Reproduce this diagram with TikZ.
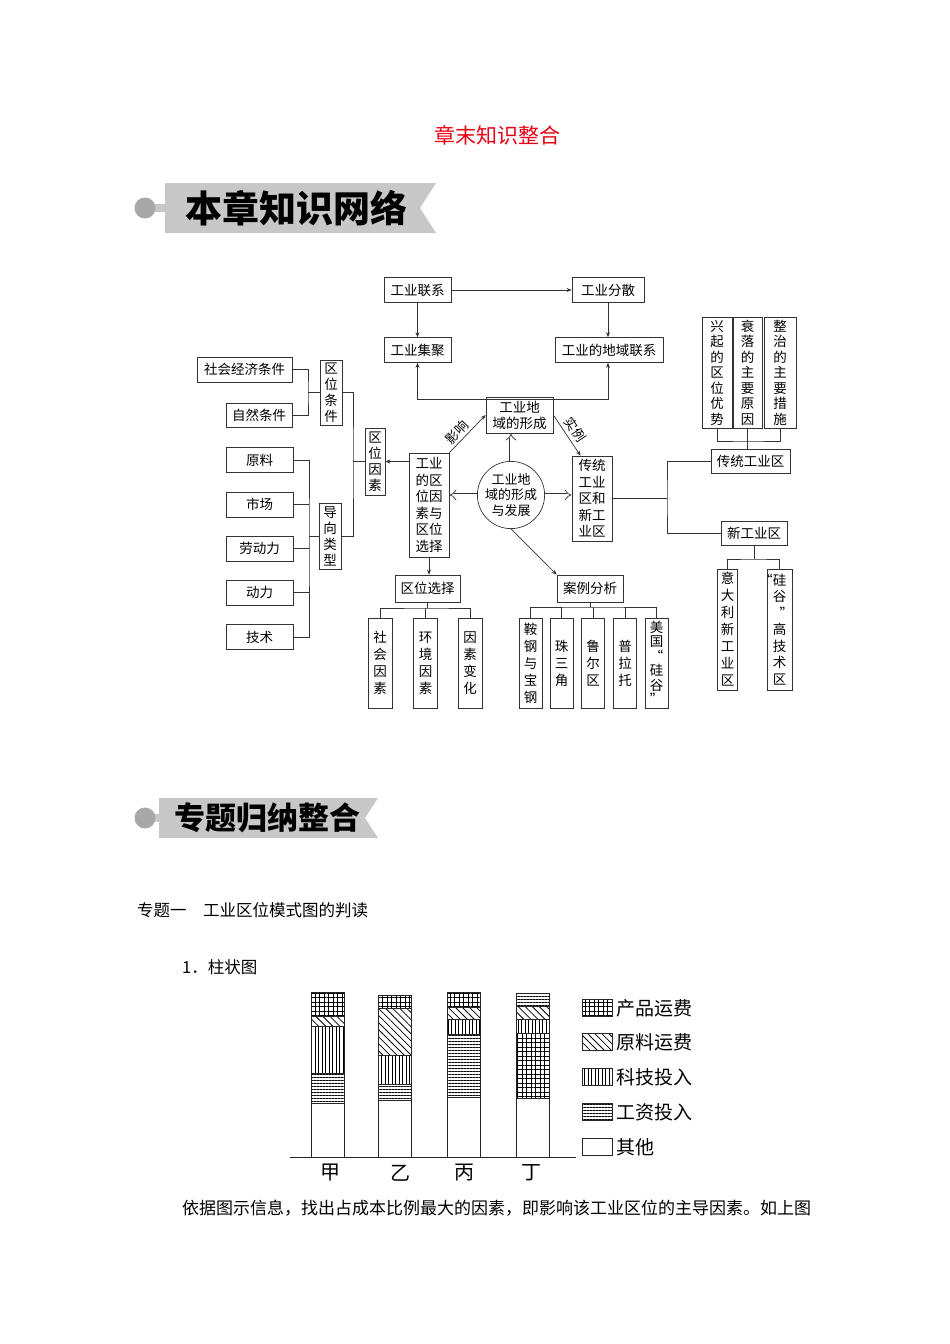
\documentclass[tikz,border=0pt]{standalone}
\usepackage{fontspec}
\setmainfont{Noto Sans CJK SC}
\usetikzlibrary{arrows.meta,patterns.meta}
\definecolor{titlered}{RGB}{230,0,18}
\definecolor{bannergray}{RGB}{200,200,200}
\definecolor{dotgray}{RGB}{168,168,168}

\begin{document}
\begin{tikzpicture}[x=1pt,y=-1pt,
    box/.style={draw=black!80, line width=0.7pt, inner sep=1pt, font=\fontsize{13.5}{16}\selectfont},
    vbox/.style={box, align=center},
    pitch/.style={font=\fontsize{13.5}{#1}\selectfont},
    link/.style={draw=black!80, line width=0.7pt},
    arr/.style={link, -{Stealth[length=5pt,width=4pt]}},
    dbl/.style={draw=black!80, line width=0.7pt, double, double distance=3pt, -{Implies}},
    tag/.style={font=\fontsize{13}{15}\selectfont, inner sep=0.5pt, sloped},
    bar/.style={draw=black!85, line width=0.6pt},
    cpfill/.style={bar, pattern={Hatch[distance=4.5pt, line width=0.6pt]}},
    ylfill/.style={bar, pattern={Lines[angle=-45, distance=5pt, line width=0.8pt]}},
    kjfill/.style={bar, pattern={Lines[angle=90, distance=3.5pt, line width=0.8pt]}},
    gzfill/.style={bar, pattern={Lines[angle=0, distance=3pt, line width=0.8pt]}},
    qtfill/.style={bar, fill=white}]
    \useasboundingbox (0,0) rectangle (950,1344);

    % Title and first banner
    \node[font=\fontsize{21}{24}\selectfont, text=titlered] (title) at (497,135) {章末知识整合};
    \fill[bannergray] (165,183) -- (436,183) -- (420,208) -- (436,233) -- (165,233) -- cycle;
    \fill[bannergray] (150,204) rectangle (166,212);
    \fill[dotgray] (145,208) circle (10.5);
    \node[font=\fontsize{37}{40}\selectfont\bfseries] (bannerA) at (296,208) {本章知识网络};

    % Top loop
    \node[box, minimum width=67, minimum height=25] (lianxi) at (417.5,290) {工业联系};
    \node[box, minimum width=72, minimum height=25] (fensan) at (608,290) {工业分散};
    \node[box, minimum width=67, minimum height=25] (jiju) at (417.5,350) {工业集聚};
    \node[box, minimum width=108, minimum height=25] (diyu) at (609,350) {工业的地域联系};
    \draw[arr] (lianxi) -- (fensan);
    \draw[arr] (lianxi) -- (jiju);
    \draw[arr] (fensan) -- (fensan |- diyu.north);
    \draw[arr, {Stealth[length=5pt,width=4pt]}-{Stealth[length=5pt,width=4pt]}] (jiju.south) -- ++(0,36) -| (fensan |- diyu.south);

    % Location conditions
    \node[box, minimum width=95, minimum height=25] (shehui) at (244.5,369.5) {社会经济条件};
    \node[box, minimum width=66, minimum height=24] (ziran) at (259,415) {自然条件};
    \node[vbox, minimum width=22, minimum height=65] (tiaojian) at (331,392.5) {区\\位\\条\\件};
    \coordinate (j1) at (308,392.5);
    \draw[link] (shehui.east) -| (j1) |- (ziran.east);
    \draw[link] (j1) -- (tiaojian.west);

    \node[vbox, minimum width=20, minimum height=67] (yinsu) at (375,461.5) {区\\位\\因\\素};
    \node[vbox, minimum width=22, minimum height=66] (daoxiang) at (330,536) {导\\向\\类\\型};
    \coordinate (j2) at (353,461.5);
    \draw[link] (tiaojian.east) -| (j2) |- (daoxiang.east);
    \draw[link] (j2) -- (yinsu.west);

    % Orientation types
    \node[box, minimum width=67, minimum height=25] (yuanliao) at (259.5,460) {原料};
    \node[box, minimum width=67, minimum height=25] (shichang) at (259.5,504.5) {市场};
    \node[box, minimum width=67, minimum height=25] (laodong) at (259.5,548.5) {劳动力};
    \node[box, minimum width=67, minimum height=25] (dongli) at (259.5,592.5) {动力};
    \node[box, minimum width=67, minimum height=25] (jishu) at (259.5,637) {技术};
    \coordinate (j3) at (309,536);
    \draw[link] (yuanliao.east) -| (j3) |- (jishu.east);
    \draw[link] (shichang.east) -- (shichang.east -| j3);
    \draw[link] (laodong.east) -- (laodong.east -| j3);
    \draw[link] (dongli.east) -- (dongli.east -| j3);
    \draw[link] (j3) -- (daoxiang.west);

    % Centre
    \node[vbox, pitch=16.5, minimum width=40, minimum height=104] (xuanze) at (429,505) {工业\\的区\\位因\\素与\\区位\\选择};
    \node[vbox, pitch=16, minimum width=67, minimum height=36] (xingcheng) at (519.5,415) {工业地\\域的形成};
    \node[draw=black!80, line width=0.7pt, circle, minimum size=65, inner sep=0pt, align=center,
          font=\fontsize{13}{15.5}\selectfont] (yuan) at (511,495) {工业地\\域的形成\\与发展};
    \node[vbox, pitch=16.5, minimum width=40, minimum height=85] (chuantong) at (592,498.5) {传统\\工业\\区和\\新工\\业区};
    \draw[arr] (xuanze.north east) -- node[tag, pos=0.38, above=2pt] {影响} (xingcheng.west);
    \draw[arr] (xingcheng.east) -- node[tag, pos=0.5, above=3pt] {实例} (chuantong.105);
    \draw[arr] (xuanze.west |- yinsu.east) -- (yinsu.east);
    \draw[dbl] (yuan.west) -- (xuanze.east |- yuan.west);
    \draw[dbl] (yuan.east) -- (chuantong.west |- yuan.east);
    \draw[dbl] (yuan.north) -- (yuan.north |- xingcheng.south);

    % Traditional and new industrial areas
    \node[box, minimum width=79, minimum height=24] (ctq) at (750.5,461.5) {传统工业区};
    \node[box, minimum width=66, minimum height=24] (xgq) at (754,533) {新工业区};
    \coordinate (j4) at (667,498.5);
    \draw[link] (chuantong.east |- j4) -- (j4);
    \draw[link] (ctq.west) -| (j4) |- (xgq.west);

    \node[vbox, pitch=15.5, minimum width=30, minimum height=111] (xingqi) at (717,372.5) {兴\\起\\的\\区\\位\\优\\势};
    \node[vbox, pitch=15.5, minimum width=29, minimum height=111] (shuailuo) at (747.5,372.5) {衰\\落\\的\\主\\要\\原\\因};
    \node[vbox, pitch=15.5, minimum width=32, minimum height=111] (zhengzhi) at (780,372.5) {整\\治\\的\\主\\要\\措\\施};
    \coordinate (j5) at (747.5,441);
    \draw[link] (xingqi.south) |- (j5) -| (zhengzhi.south);
    \draw[link] (shuailuo.south) -- (shuailuo.south |- ctq.north);

    \node[vbox, pitch=17, minimum width=20, minimum height=121] (yidali) at (727.5,629.5) {意\\大\\利\\新\\工\\业\\区};
    \node[vbox, pitch=16.5, minimum width=25, minimum height=121] (gaoji) at (779.5,629.5) {\llap{“}硅\\谷\\\rlap{”}\\高\\技\\术\\区};
    \coordinate (j6) at (754,559);
    \draw[link] (xgq.south) -- (j6);
    \draw[link] (yidali.north) |- (j6) -| (gaoji.north);

    % Location choice
    \node[box, minimum width=65, minimum height=27] (quwei) at (427.5,588.5) {区位选择};
    \draw[arr] (xuanze.south) -- (xuanze.south |- quwei.north);
    \node[vbox, pitch=17, minimum width=24, minimum height=90] (shehuiys) at (380,663) {社\\会\\因\\素};
    \node[vbox, pitch=17, minimum width=24, minimum height=90] (huanjing) at (425.5,663) {环\\境\\因\\素};
    \node[vbox, pitch=17, minimum width=24, minimum height=90] (bianhua) at (470,663) {因\\素\\变\\化};
    \coordinate (j7) at (427.5,608);
    \draw[link] (quwei.south) -- (j7);
    \draw[link] (shehuiys.north) |- (j7) -| (bianhua.north);
    \draw[link] (huanjing.north) -- (huanjing.north |- j7);

    % Case studies
    \node[box, minimum width=66, minimum height=27] (anli) at (590,588.5) {案例分析};
    \draw[arr] (yuan.south) -- (anli.north west);
    \node[vbox, pitch=17, minimum width=23, minimum height=90] (angang) at (530.5,663) {鞍\\钢\\与\\宝\\钢};
    \node[vbox, pitch=17, minimum width=23, minimum height=90] (zhusanjiao) at (561.5,663) {珠\\三\\角};
    \node[vbox, pitch=17, minimum width=23, minimum height=90] (luer) at (593,663) {鲁\\尔\\区};
    \node[vbox, pitch=17, minimum width=23, minimum height=90] (pulatuo) at (625,663) {普\\拉\\托};
    \node[vbox, pitch=14.5, minimum width=23, minimum height=90] (guigu) at (656.5,663) {美\\国\\“\\硅\\谷\\”};
    \coordinate (j8) at (593,607);
    \draw[link] (anli.south) -- (anli.south |- j8);
    \draw[link] (angang.north) |- (j8) -| (guigu.north);
    \draw[link] (zhusanjiao.north) -- (zhusanjiao.north |- j8);
    \draw[link] (luer.north) -- (luer.north |- j8);
    \draw[link] (pulatuo.north) -- (pulatuo.north |- j8);

    % Second banner and text
    \fill[bannergray] (159,798) -- (378,798) -- (365,818) -- (378,838) -- (159,838) -- cycle;
    \fill[bannergray] (150,814) rectangle (160,822);
    \fill[dotgray] (145,818) circle (10.5);
    \node[font=\fontsize{31}{34}\selectfont\bfseries] (bannerB) at (267.5,818) {专题归纳整合};
    \node[anchor=west, inner sep=0pt, font=\fontsize{16.5}{18}\selectfont] (topic) at (137,910) {专题一　工业区位模式图的判读};
    \node[anchor=west, inner sep=0pt, font=\fontsize{16.5}{18}\selectfont] (item) at (182,967) {1．柱状图};

    % Bar chart
    \draw[qtfill] (311.5,1103) rectangle (344.5,1157);
    \draw[gzfill] (311.5,1073) rectangle (344.5,1103);
    \draw[kjfill] (311.5,1026) rectangle (344.5,1073);
    \draw[ylfill] (311.5,1016) rectangle (344.5,1026);
    \draw[cpfill] (311.5,992) rectangle (344.5,1016);

    \draw[qtfill] (378,1100) rectangle (411,1157);
    \draw[gzfill] (378,1084) rectangle (411,1100);
    \draw[kjfill] (378,1055) rectangle (411,1084);
    \draw[ylfill] (378,1008) rectangle (411,1055);
    \draw[cpfill] (378,995) rectangle (411,1008);

    \draw[qtfill] (447.5,1097) rectangle (480.5,1157);
    \draw[gzfill] (447.5,1034) rectangle (480.5,1097);
    \draw[kjfill] (447.5,1019) rectangle (480.5,1034);
    \draw[ylfill] (447.5,1007) rectangle (480.5,1019);
    \draw[cpfill] (447.5,992) rectangle (480.5,1007);

    \draw[qtfill] (516.5,1098) rectangle (549.5,1157);
    \draw[cpfill] (516.5,1033) rectangle (549.5,1098);
    \draw[kjfill] (516.5,1019) rectangle (549.5,1033);
    \draw[ylfill] (516.5,1006) rectangle (549.5,1019);
    \draw[gzfill] (516.5,993) rectangle (549.5,1006);

    \draw[black!85, line width=0.8pt] (290,1157) -- (576,1157);
    \node[font=\fontsize{20}{22}\selectfont] (jia) at (330,1173) {甲};
    \node[font=\fontsize{20}{22}\selectfont] (yi) at (400,1173) {乙};
    \node[font=\fontsize{20}{22}\selectfont] (bing) at (464,1173) {丙};
    \node[font=\fontsize{20}{22}\selectfont] (ding) at (531,1173) {丁};

    % Legend
    \draw[cpfill] (582,999.5) rectangle (612,1016.5);
    \draw[ylfill] (582,1033.5) rectangle (612,1050.5);
    \draw[kjfill] (582,1068.5) rectangle (612,1085.5);
    \draw[gzfill] (582,1103.5) rectangle (612,1120.5);
    \draw[qtfill] (582,1138.5) rectangle (612,1155.5);
    \node[anchor=west, inner sep=0pt, font=\fontsize{19}{21}\selectfont] (lgcp) at (616,1008) {产品运费};
    \node[anchor=west, inner sep=0pt, font=\fontsize{19}{21}\selectfont] (lgyl) at (616,1042) {原料运费};
    \node[anchor=west, inner sep=0pt, font=\fontsize{19}{21}\selectfont] (lgkj) at (616,1077) {科技投入};
    \node[anchor=west, inner sep=0pt, font=\fontsize{19}{21}\selectfont] (lggz) at (616,1112) {工资投入};
    \node[anchor=west, inner sep=0pt, font=\fontsize{19}{21}\selectfont] (lgqt) at (616,1147) {其他};

    \node[anchor=west, inner sep=0pt, font=\fontsize{17}{19}\selectfont] (note) at (182,1208) {依据图示信息，找出占成本比例最大的因素，即影响该工业区位的主导因素。如上图};
\end{tikzpicture}
\end{document}
